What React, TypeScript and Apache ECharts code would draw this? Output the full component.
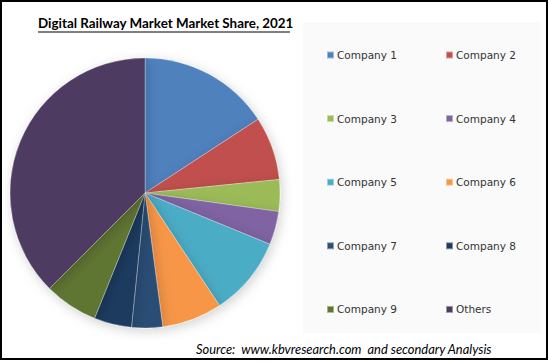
import React, { useEffect, useRef } from "react";
import * as echarts from "echarts";

const categories = ["Company 1", "Company 2", "Company 3", "Company 4", "Company 5", "Company 6", "Company 7", "Company 8", "Company 9", "Others"];
const shares = [15.8, 7.6, 3.8, 4.0, 9.5, 7.2, 3.7, 4.5, 6.4, 37.5];
const colors = ["#4F81BD", "#C0504D", "#9BBB59", "#8064A2", "#4BACC6", "#F79646", "#2C4D75", "#1B3A5E", "#5F7530", "#4D3B62"];
const titleText = "Digital Railway Market Market Share, 2021";
const sourceText = "Source:  www.kbvresearch.com  and secondary Analysis";

export default function App() {
  const ref = useRef<HTMLDivElement>(null);
  useEffect(() => {
    document.body.style.margin = "0";
    if (!ref.current) return;
    const chart = echarts.init(ref.current, undefined, { renderer: "svg" });
    const leftNames = categories.filter((_, i) => i % 2 === 0);
    const rightNames = categories.filter((_, i) => i % 2 === 1);
    const legendCommon = {
      orient: "vertical" as const,
      top: 43,
      padding: 5,
      itemWidth: 7,
      itemHeight: 7,
      itemGap: 49.6,
      icon: "rect",
      selectedMode: false,
      textStyle: { fontFamily: "DejaVu Sans", fontSize: 10.5, color: "#333", lineHeight: 14, padding: [0, 0, 0, -2] },
    };
    chart.setOption({
      animation: false,
      backgroundColor: "#fff",
      color: colors,
      title: {
        text: titleText,
        left: 33,
        top: 11,
        textStyle: { fontFamily: "Lato", fontWeight: "bold", fontSize: 13.4, color: "#000" },
      },
      legend: [
        { ...legendCommon, left: 321, data: leftNames },
        { ...legendCommon, left: 440, data: rightNames },
      ],
      graphic: [
        { type: "rect", z: -10, shape: { x: 303, y: 22, width: 238, height: 311 }, style: { fill: "#FAFAFA" } },
        { type: "rect", z: 10, shape: { x: 1, y: 1, width: 546, height: 358 }, style: { fill: "none", stroke: "#000", lineWidth: 2 } },
        { type: "line", z: 10, shape: { x1: 38, y1: 32, x2: 290, y2: 32 }, style: { stroke: "#000", lineWidth: 1 } },
        {
          type: "text", z: 10, x: 196, y: 349,
          style: { text: sourceText, fontFamily: "Lato", fontStyle: "italic", fontSize: 12.9, fill: "#000", textVerticalAlign: "middle" },
        },
      ],
      series: [
        {
          type: "pie",
          center: [145, 193],
          radius: 135,
          startAngle: 90,
          clockwise: true,
          label: { show: false },
          labelLine: { show: false },
          emphasis: { disabled: true },
          itemStyle: {
            borderColor: "rgba(255,255,255,0.45)",
            borderWidth: 0.6,
            shadowBlur: 12,
            shadowColor: "rgba(0,0,0,0.18)",
            shadowOffsetX: 2,
            shadowOffsetY: 3,
          },
          data: categories.map((name, i) => ({ name, value: shares[i] })),
        },
      ],
    });
    return () => chart.dispose();
  }, []);
  return <div ref={ref} style={{ width: 549, height: 361 }} />;
}
